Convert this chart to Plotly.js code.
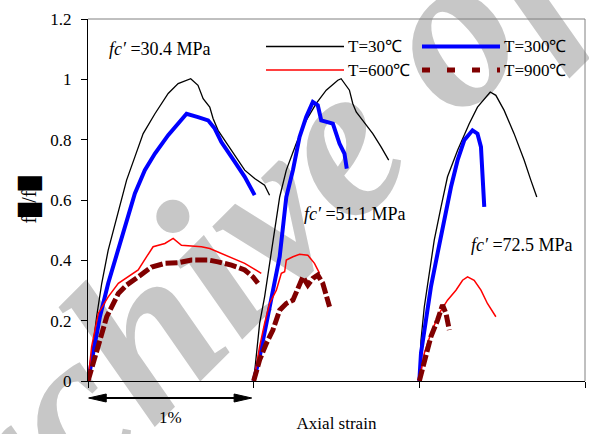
<!DOCTYPE html>
<html>
<head>
<meta charset="utf-8">
<script src="https://cdn.plot.ly/plotly-3.0.1.min.js"></script>
<style>
  html, body { margin: 0; padding: 0; background: #ffffff; }
  #wrap { position: relative; width: 589px; height: 434px; overflow: hidden; }
  #wm { position: absolute; left: 350px; top: 127px; transform: translate(-50%, -50%) rotate(-45deg);
        font-family: "Liberation Serif", serif; font-weight: bold; font-style: italic; font-size: 220px;
        line-height: 1; white-space: nowrap; color: #c7c7c7; z-index: 0; }
  #chart { position: absolute; left: 0; top: 0; width: 589px; height: 434px; z-index: 1; }
</style>
</head>
<body>
<div id="wrap">
  <div id="wm">Archive of SID</div>
  <div id="chart"></div>
</div>
<script>
// Temperatures (legend labels)
const temps = ['T=30℃', 'T=300℃', 'T=600℃', 'T=900℃'];
// Concrete strengths (one group per strength, offset by 1% strain)
const strengths = ['30.4', '51.1', '72.5'];

// Axial strain (%) / normalised stress, per group
// T = 30 C
const t30Strain = [
  [0, 0.022, 0.052, 0.083, 0.122, 0.163, 0.193, 0.233, 0.283, 0.333, 0.404, 0.484, 0.544, 0.620, 0.664, 0.695, 0.735, 0.755, 0.785, 0.825, 0.886, 0.946, 1.006, 1.066, 1.096],
  [1.0, 1.036, 1.066, 1.096, 1.127, 1.157, 1.197, 1.257, 1.317, 1.378, 1.438, 1.508, 1.528, 1.548, 1.578, 1.598, 1.619, 1.658, 1.719, 1.769, 1.815],
  [2.0, 2.010, 2.030, 2.060, 2.090, 2.131, 2.170, 2.231, 2.301, 2.351, 2.428, 2.462, 2.512, 2.572, 2.633, 2.673, 2.709]
];
const t30Stress = [
  [0, 0.080, 0.213, 0.324, 0.434, 0.522, 0.588, 0.666, 0.743, 0.820, 0.886, 0.953, 0.986, 1.002, 0.980, 0.936, 0.908, 0.870, 0.831, 0.798, 0.748, 0.699, 0.671, 0.649, 0.616],
  [0, 0.191, 0.279, 0.390, 0.511, 0.610, 0.699, 0.787, 0.864, 0.920, 0.964, 0.997, 1.002, 0.986, 0.964, 0.920, 0.892, 0.864, 0.820, 0.776, 0.732],
  [0, 0.136, 0.246, 0.357, 0.467, 0.577, 0.677, 0.765, 0.853, 0.908, 0.958, 0.947, 0.897, 0.820, 0.732, 0.666, 0.610]
];
// T = 300 C
const t300Strain = [
  [0, 0.032, 0.072, 0.122, 0.183, 0.243, 0.283, 0.343, 0.404, 0.484, 0.564, 0.595, 0.664, 0.725, 0.765, 0.805, 0.886, 0.946, 1.006],
  [1.0, 1.036, 1.077, 1.116, 1.157, 1.177, 1.197, 1.237, 1.277, 1.317, 1.357, 1.387, 1.408, 1.478, 1.498, 1.518, 1.548, 1.562],
  [2.0, 2.010, 2.040, 2.070, 2.110, 2.151, 2.191, 2.231, 2.271, 2.321, 2.351, 2.372, 2.381, 2.392]
];
const t300Stress = [
  [0, 0.103, 0.213, 0.324, 0.434, 0.544, 0.622, 0.699, 0.754, 0.815, 0.870, 0.886, 0.875, 0.864, 0.837, 0.792, 0.726, 0.677, 0.616],
  [0, 0.080, 0.191, 0.301, 0.412, 0.511, 0.610, 0.699, 0.809, 0.875, 0.925, 0.914, 0.864, 0.853, 0.820, 0.787, 0.754, 0.704],
  [0, 0.092, 0.202, 0.312, 0.423, 0.533, 0.643, 0.732, 0.798, 0.831, 0.820, 0.776, 0.688, 0.577]
];
// T = 600 C
const t600Strain = [
  [0, 0.022, 0.062, 0.122, 0.183, 0.243, 0.303, 0.354, 0.393, 0.464, 0.514, 0.564, 0.685, 0.735, 0.825, 0.946, 1.046],
  [1.0, 1.036, 1.066, 1.096, 1.137, 1.167, 1.187, 1.197, 1.237, 1.277, 1.327, 1.367, 1.398],
  [2.0, 2.030, 2.070, 2.120, 2.170, 2.221, 2.261, 2.291, 2.331, 2.372, 2.411, 2.462]
];
const t600Stress = [
  [0, 0.114, 0.224, 0.279, 0.324, 0.345, 0.368, 0.412, 0.445, 0.456, 0.473, 0.450, 0.445, 0.439, 0.417, 0.390, 0.357],
  [0, 0.114, 0.191, 0.257, 0.301, 0.357, 0.362, 0.401, 0.412, 0.420, 0.417, 0.390, 0.357],
  [0, 0.092, 0.158, 0.224, 0.268, 0.301, 0.334, 0.345, 0.334, 0.301, 0.257, 0.213]
];
// T = 900 C
const t900Strain = [
  [0, 0.062, 0.113, 0.183, 0.233, 0.303, 0.384, 0.464, 0.544, 0.625, 0.725, 0.785, 0.866, 0.946, 0.996, 1.026],
  [1.0, 1.036, 1.077, 1.116, 1.157, 1.197, 1.237, 1.277, 1.297, 1.327, 1.357, 1.387, 1.417, 1.458],
  [2.0, 2.030, 2.070, 2.110, 2.140, 2.161, 2.181]
];
const t900Stress = [
  [0, 0.114, 0.213, 0.290, 0.318, 0.345, 0.378, 0.390, 0.392, 0.401, 0.401, 0.395, 0.384, 0.368, 0.345, 0.324],
  [0, 0.070, 0.125, 0.169, 0.235, 0.257, 0.268, 0.324, 0.345, 0.318, 0.340, 0.351, 0.324, 0.246],
  [0, 0.070, 0.147, 0.202, 0.252, 0.224, 0.169]
];
const yTicks = [0, 0.2, 0.4, 0.6, 0.8, 1, 1.2];
const xTicks = [0, 1, 2, 3];

const series = [
  { xs: t30Strain, ys: t30Stress, color: '#000000', width: 1.3, dash: 'solid' },
  { xs: t300Strain, ys: t300Stress, color: '#0000ff', width: 4, dash: 'solid' },
  { xs: t600Strain, ys: t600Stress, color: '#ff0000', width: 1.5, dash: 'solid' },
  { xs: t900Strain, ys: t900Stress, color: '#800000', width: 5, dash: '12px,3px' }
];

const traces = [];
series.forEach((s, i) => {
  s.xs.forEach((xg, g) => {
    traces.push({
      type: 'scatter', mode: 'lines', x: xg, y: s.ys[g],
      name: temps[i], showlegend: false, hoverinfo: 'skip',
      line: { color: s.color, width: s.width, dash: s.dash, shape: 'linear' }
    });
  });
});

const FONT = '"Liberation Serif", serif';
const L = 88, R = 585, T = 19, B = 381;
const W = R - L, H = B - T;
const px = v => (v - L) / W;       // pixel -> paper x
const py = v => (B - v) / H;       // pixel -> paper y

const shapes = [
  { type: 'line', xref: 'paper', yref: 'paper', x0: 0, x1: 1, y0: 1, y1: 1, line: { color: '#808080', width: 1 } },
  { type: 'line', xref: 'paper', yref: 'paper', x0: 1, x1: 1, y0: 0, y1: 1, line: { color: '#808080', width: 1 } },
  { type: 'line', xref: 'x', yref: 'paper', x0: 0.08, x1: 0.91, y0: py(398), y1: py(398), line: { color: '#000', width: 2 } },
  { type: 'path', xref: 'x', yref: 'paper', path: `M 0.004 ${py(398)} L 0.11 ${py(394)} L 0.11 ${py(402)} Z`, fillcolor: '#000', line: { color: '#000', width: 1 } },
  { type: 'path', xref: 'x', yref: 'paper', path: `M 0.988 ${py(398)} L 0.882 ${py(394)} L 0.882 ${py(402)} Z`, fillcolor: '#000', line: { color: '#000', width: 1 } }
];

const legRows = [46.5, 46.5, 70, 70];
const legX0 = [266, 422, 266, 422];
series.forEach((s, i) => {
  shapes.push({
    type: 'line', xref: 'paper', yref: 'paper',
    x0: px(legX0[i]), x1: px(legX0[i] + 78), y0: py(legRows[i]), y1: py(legRows[i]),
    line: { color: s.color, width: s.width, dash: i === 3 ? '8px,17px' : 'solid' }
  });
});

const annotations = [];
series.forEach((s, i) => {
  annotations.push({
    xref: 'paper', yref: 'paper', x: px(legX0[i] + 80), y: py(legRows[i]),
    xanchor: 'left', yanchor: 'middle', showarrow: false, text: temps[i],
    font: { family: FONT, size: 17, color: '#000' }
  });
});
const fcPos = [[107, 49], [302, 214], [469, 245]];
strengths.forEach((st, i) => {
  annotations.push({
    xref: 'paper', yref: 'paper', x: px(fcPos[i][0]), y: py(fcPos[i][1]),
    xanchor: 'left', yanchor: 'middle', showarrow: false,
    text: '<i>fc′</i> =' + st + ' MPa',
    font: { family: FONT, size: 18, color: '#000' }
  });
});
annotations.push({
  xref: 'x', yref: 'paper', x: 0.5, y: py(418), xanchor: 'center', yanchor: 'middle',
  showarrow: false, text: '1%', font: { family: FONT, size: 17, color: '#000' }
});

const layout = {
  width: 589, height: 434,
  margin: { l: L, r: 589 - R, t: T, b: 434 - B, pad: 0 },
  paper_bgcolor: 'rgba(0,0,0,0)', plot_bgcolor: 'rgba(0,0,0,0)',
  showlegend: false,
  font: { family: FONT, size: 17, color: '#000' },
  xaxis: {
    range: [0, 3], tickvals: xTicks, showticklabels: false, ticks: 'outside', ticklen: 6,
    tickcolor: '#000', showline: true, linecolor: '#000', linewidth: 1, showgrid: false, zeroline: false,
    title: { text: 'Axial strain', font: { family: FONT, size: 17 }, standoff: 30 }
  },
  yaxis: {
    range: [0, 1.2], tickvals: yTicks, ticks: 'outside', ticklen: 6, tickcolor: '#000',
    showline: true, linecolor: '#000', linewidth: 1, showgrid: false, zeroline: false,
    tickfont: { family: FONT, size: 17 }, ticklabelstandoff: 6,
    title: { text: 'f█/f█', font: { family: FONT, size: 20 }, standoff: 8 }
  },
  shapes: shapes,
  annotations: annotations
};

Plotly.newPlot('chart', traces, layout, { staticPlot: true, displayModeBar: false });
</script>
</body>
</html>
